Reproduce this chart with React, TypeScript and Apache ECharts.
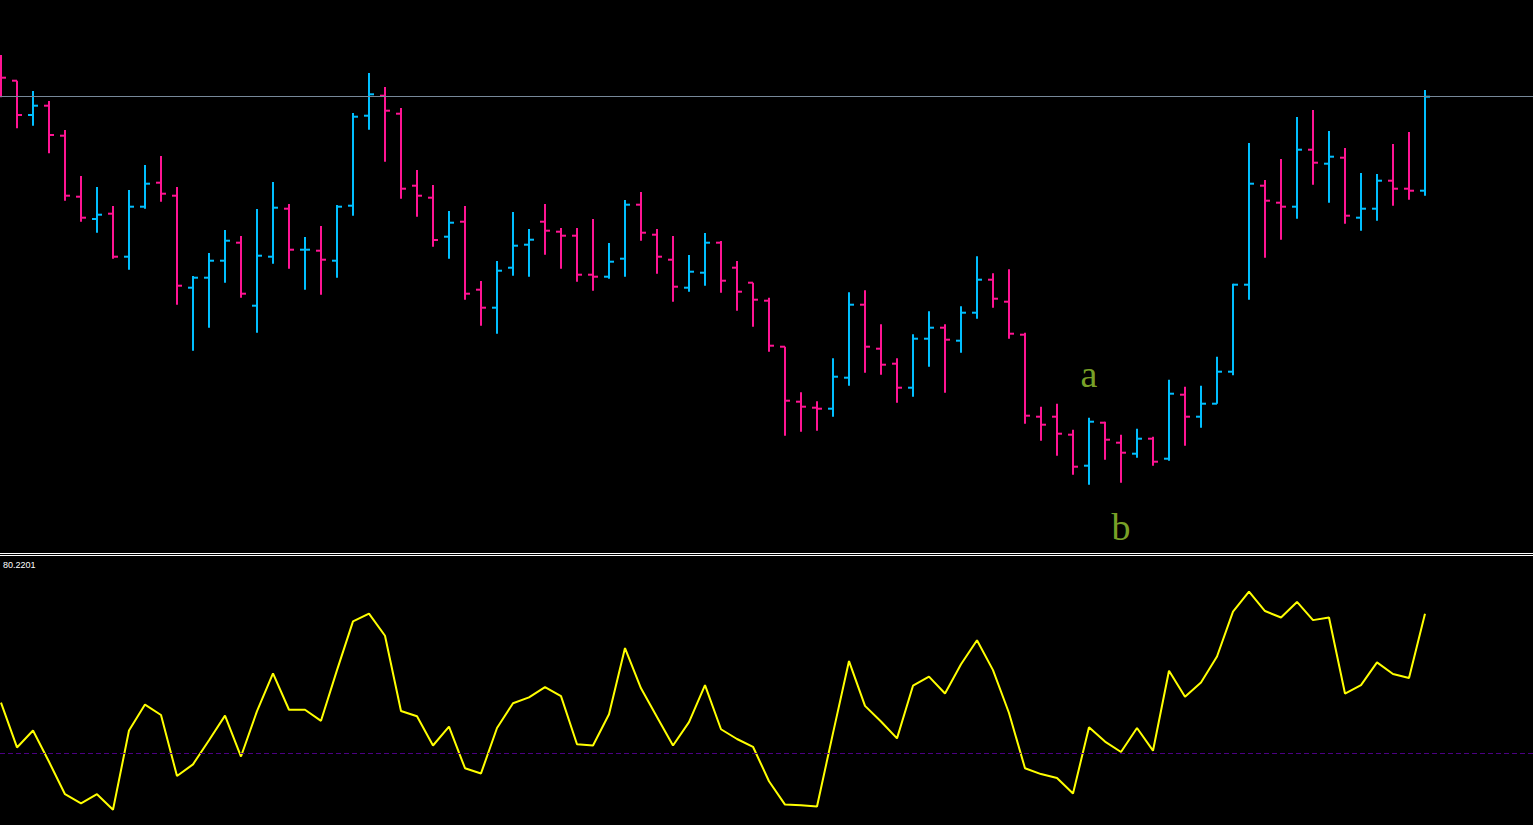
import React, { useEffect, useRef } from "react";
import * as echarts from "echarts";

// OHLC bars (price units), one per bar index
const opens = [538, 519.3, 485, 494.3, 464.3, 403.3, 381, 386.3, 343.3, 393.3, 417.3, 404.3, 312.3, 322.3, 339.3, 357.3, 294.3, 343.3, 391.3, 350.3, 349.3, 339.3, 394.3, 484.3, 504.3, 486.3, 414.3, 402.3, 363.3, 378.3, 310.3, 292.3, 332.3, 355.3, 378.3, 368.3, 364.3, 325.3, 323.3, 341.3, 395.3, 365.3, 340.3, 312.3, 327.3, 357.3, 332.3, 317.3, 299.3, 253.3, 198.3, 192.3, 191.3, 222.3, 295.3, 251.3, 236.3, 212.3, 261.3, 272.3, 259.3, 287.3, 320.3, 298.3, 265.3, 183.3, 183.3, 165.3, 134.3, 177.3, 157.3, 146.3, 161.3, 141.3, 205.3, 183.3, 196.3, 228.3, 315.3, 414.3, 397.3, 393.3, 450.3, 436.3, 442.3, 382.3, 391.3, 419.3, 411.3, 409.3];
const highs = [545, 519.3, 509, 499, 470, 424, 413, 394, 410, 435, 444, 413, 324, 347, 370, 364, 391, 418, 396, 363, 374, 395, 487, 527, 513, 492, 430, 415, 389, 394, 319, 339, 388, 371, 396, 372, 372, 381, 357, 400, 408, 371, 364, 345, 367, 359, 339, 317.3, 302.3, 253.3, 207.7, 198.7, 241.7, 307.7, 309.7, 275.7, 241.7, 265.7, 288.7, 275.7, 293.7, 343.7, 326.7, 330.7, 267.3, 193.3, 196.3, 170.3, 182.3, 178.3, 165.3, 171.3, 163.3, 220.3, 213.3, 214.3, 243.3, 316.3, 457, 420, 441, 483, 490, 469, 452, 427, 426, 456, 468, 510];
const lows = [502.7, 471.7, 474.3, 446.7, 399.3, 378.3, 367.3, 341.3, 330.3, 391.3, 398.3, 295.3, 249.3, 272.3, 317.3, 302.3, 267.3, 336.3, 331.3, 310.3, 305.3, 322.3, 384.3, 470.3, 438.3, 401.3, 383.3, 353.3, 341.3, 300.3, 274.3, 266.3, 324.3, 323.3, 345.3, 331.3, 318.3, 309.3, 321.3, 323.3, 359.3, 326.3, 298.3, 308.3, 314.3, 307.3, 289.3, 273.3, 248.3, 164.3, 168.3, 169.3, 183.3, 214.3, 227.3, 225.3, 197.3, 203.3, 233.3, 207.3, 247.3, 281.3, 292.3, 261.3, 176.3, 159.3, 144.3, 125.3, 115.3, 140.3, 117.3, 142.3, 134.3, 139.3, 154.3, 172.3, 196.3, 224.7, 300.3, 342.3, 360.3, 381.3, 415.3, 397.3, 376.3, 369.3, 379.3, 394.3, 400.3, 404.3];
const closes = [522.3, 485, 494.3, 465, 404.3, 382.3, 385.3, 343.3, 393.3, 416.3, 406.3, 314.3, 322.3, 339.3, 359.3, 306.3, 344.3, 392.3, 350.3, 350.3, 340.3, 393.3, 483.3, 505.7, 489.3, 411.3, 404.3, 360, 377.3, 306.3, 292.3, 329.3, 354.3, 360.3, 369.3, 364.3, 325.3, 323.3, 338.3, 395.3, 367.3, 343.3, 313.3, 328.3, 357.3, 319.3, 308.3, 300.3, 254.3, 199.3, 193.3, 191.3, 223.3, 295.3, 253.3, 235.3, 212.3, 261.3, 272.3, 260.3, 287.3, 320.3, 301.3, 266.3, 184.3, 175.3, 166.3, 133.3, 178.3, 160.3, 147.3, 161.3, 138.3, 206.3, 183.3, 196.3, 228.3, 315.3, 416.3, 399.3, 393.3, 450.3, 437.3, 443.3, 384.3, 391.3, 419.3, 411.3, 409.3, 503.3];

// Oscillator (lower pane)
const oscValues = [57.8, 50.9, 53.5, 48.7, 43.7, 42.3, 43.7, 41.3, 53.5, 57.5, 55.9, 46.5, 48.3, 52.0, 55.8, 49.5, 56.5, 62.3, 56.7, 56.7, 55.0, 62.8, 70.3, 71.5, 68.1, 56.5, 55.7, 51.2, 54.1, 47.7, 46.9, 53.9, 57.7, 58.6, 60.2, 58.8, 51.4, 51.2, 56.0, 66.2, 60.0, 55.6, 51.2, 54.8, 60.5, 53.7, 52.2, 51.0, 45.7, 42.1, 42.0, 41.8, 53.1, 64.2, 57.3, 54.9, 52.3, 60.4, 61.8, 59.2, 63.7, 67.4, 62.8, 56.2, 47.7, 46.8, 46.2, 43.8, 54.0, 51.8, 50.2, 53.9, 50.4, 62.7, 58.7, 60.9, 64.9, 71.8, 74.9, 71.9, 70.9, 73.3, 70.5, 70.9, 59.2, 60.5, 64.0, 62.2, 61.6, 71.5];
const oscMax = 80.2201;
const oscMin = 38.96;
const oscLevel = 50;

// Wave annotations: [bar index, price, text]
const waveLabels: [number, number, string][] = [
  [68, 225.8, "a"],
  [70, 72.8, "b"],
];

const BULL = "#00bfff";
const BEAR = "#ff1493";

export default function App() {
  const ref = useRef<HTMLDivElement>(null);
  useEffect(() => {
    if (!ref.current) return;
    const chart = echarts.init(ref.current, null, { renderer: "svg" });
    const ohlc = opens.map((o, i) => [i, o, highs[i], lows[i], closes[i]]);
    const lastClose = closes[closes.length - 1];
    chart.setOption({
      animation: false,
      backgroundColor: "#000000",
      grid: [
        { left: 0, top: 0, width: 1533, height: 550 },
        { left: 0, top: 557, width: 1533, height: 268 },
      ],
      xAxis: [
        { type: "value", gridIndex: 0, min: -0.0625, max: 95.75, show: false },
        { type: "value", gridIndex: 1, min: -0.0625, max: 95.75, show: false },
      ],
      yAxis: [
        { type: "value", gridIndex: 0, min: 50, max: 600, show: false },
        { type: "value", gridIndex: 1, min: oscMin, max: oscMax, show: false },
      ],
      series: [
        {
          type: "custom",
          xAxisIndex: 0,
          yAxisIndex: 0,
          silent: true,
          encode: { x: 0, y: [1, 2, 3, 4] },
          data: ohlc,
          renderItem: (params: any, api: any) => {
            const i = api.value(0);
            const o = api.value(1);
            const h = api.value(2);
            const l = api.value(3);
            const c = api.value(4);
            const pO = api.coord([i, o]);
            const pH = api.coord([i, h]);
            const pL = api.coord([i, l]);
            const pC = api.coord([i, c]);
            const x = pH[0];
            const color = c >= o ? BULL : BEAR;
            const st = { stroke: color, lineWidth: 2, lineCap: "butt" };
            return {
              type: "group",
              children: [
                { type: "line", shape: { x1: x, y1: pH[1], x2: x, y2: pL[1] }, style: st },
                { type: "line", shape: { x1: x - 5, y1: pO[1], x2: x, y2: pO[1] }, style: st },
                { type: "line", shape: { x1: x, y1: pC[1], x2: x + 5, y2: pC[1] }, style: st },
              ],
            };
          },
          markLine: {
            silent: true,
            symbol: "none",
            label: { show: false },
            lineStyle: { color: "#778899", width: 1, type: "solid" },
            data: [{ yAxis: lastClose }],
          },
        },
        {
          type: "scatter",
          xAxisIndex: 0,
          yAxisIndex: 0,
          silent: true,
          symbolSize: 0,
          data: waveLabels.map((w) => ({ value: [w[0], w[1]], name: w[2] })),
          label: {
            show: true,
            position: "inside",
            formatter: (p: any) => p.name,
            fontFamily: "'Liberation Serif', serif",
            fontSize: 38,
            color: "#9acd32",
          },
        },
        {
          type: "line",
          xAxisIndex: 1,
          yAxisIndex: 1,
          silent: true,
          symbol: "none",
          data: oscValues.map((v, i) => [i, v]),
          lineStyle: { color: "#ffff00", width: 2 },
          markLine: {
            silent: true,
            symbol: "none",
            label: { show: false },
            lineStyle: { color: "#4b0082", width: 1, type: [5, 3] },
            data: [{ yAxis: oscLevel }],
          },
        },
      ],
      graphic: [
        { type: "line", shape: { x1: 0, y1: 553.5, x2: 1533, y2: 553.5 }, style: { stroke: "#ffffff", lineWidth: 1 }, silent: true },
        { type: "line", shape: { x1: 0, y1: 555.5, x2: 1533, y2: 555.5 }, style: { stroke: "#ffffff", lineWidth: 1 }, silent: true },
        {
          type: "text",
          left: 3,
          top: 560,
          silent: true,
          style: { text: oscMax.toFixed(4), fill: "#ffffff", font: "9px 'Liberation Sans', Arial, sans-serif" },
        },
      ],
    });
    return () => chart.dispose();
  }, []);
  return (
    <div
      ref={ref}
      style={{ position: "fixed", left: 0, top: 0, width: 1533, height: 825, background: "#000" }}
    />
  );
}
